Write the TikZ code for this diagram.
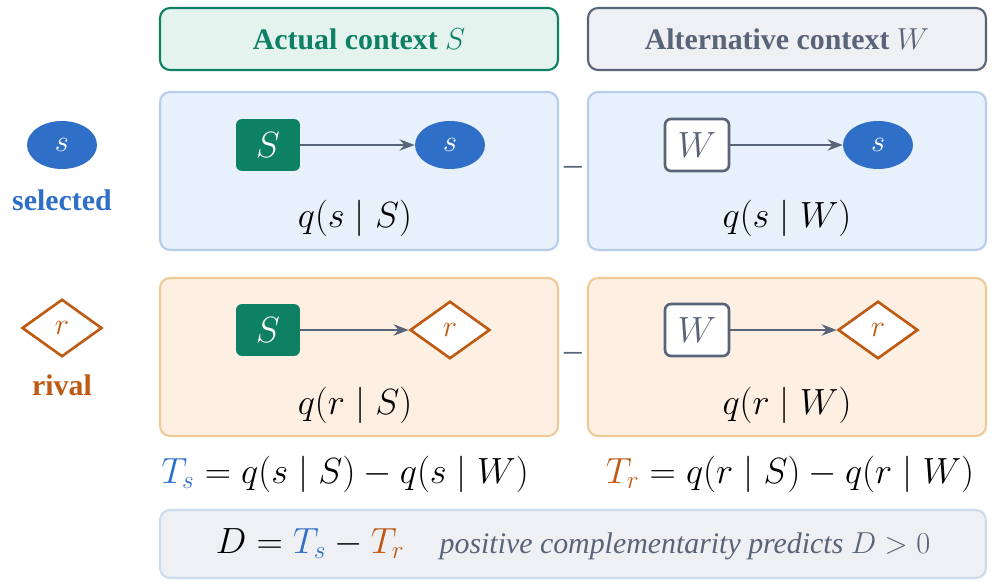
\documentclass[tikz,border=0pt]{standalone}
\usepackage{amsmath}
\usepackage{fontspec}
\setmainfont{Liberation Serif}
\usepackage{tikz}
\usetikzlibrary{positioning, shapes.geometric, arrows.meta}
\definecolor{ccBlue}{RGB}{47, 111, 200}
\definecolor{ccGreen}{RGB}{14, 128, 100}
\definecolor{ccOrange}{RGB}{190, 90, 20}
\definecolor{ccGray}{RGB}{90, 100, 120}
\definecolor{ccBlueFill}{RGB}{232, 240, 251}
\definecolor{ccBlueLine}{RGB}{182, 206, 236}
\definecolor{ccOrangeFill}{RGB}{253, 240, 226}
\definecolor{ccOrangeLine}{RGB}{240, 202, 150}
\definecolor{ccGreenFill}{RGB}{228, 243, 238}
\definecolor{ccGrayFill}{RGB}{238, 240, 243}
\tikzset{
    panel/.style={
        rectangle,
        rounded corners=2mm,
        line width=1.2pt,
        minimum width=7.96cm,
        minimum height=3.16cm
    },
    header/.style={
        rectangle,
        rounded corners=2mm,
        line width=1.2pt,
        minimum width=7.96cm,
        minimum height=1.24cm,
        font=\fontsize{17}{20}\selectfont\bfseries
    },
    ctx/.style={
        rectangle,
        rounded corners=1.2mm,
        minimum width=1.28cm,
        minimum height=1.04cm,
        font=\fontsize{20}{24}\selectfont
    },
    sel/.style={
        ellipse,
        fill=ccBlue,
        text=white,
        minimum width=1.4cm,
        minimum height=0.96cm,
        font=\fontsize{17}{20}\selectfont
    },
    riv/.style={
        diamond,
        draw=ccOrange,
        line width=1.5pt,
        fill=white,
        text=ccOrange,
        minimum width=1.6cm,
        minimum height=1.15cm,
        aspect=1.4,
        inner sep=0pt,
        font=\fontsize{17}{20}\selectfont
    },
    flow/.style={
        -{Stealth[length=3mm]},
        line width=1.3pt,
        color=ccGray
    },
    prob/.style={
        font=\fontsize{20}{24}\selectfont
    }
}
\begin{document}
\begin{tikzpicture}[x=0.02cm, y=-0.02cm]
  \useasboundingbox (0,0) rectangle (997,587);

  % Headers
  \node[header, draw=ccGreen, fill=ccGreenFill, text=ccGreen] (hS) at (359,39) {Actual context $S$};
  \node[header, draw=ccGray, fill=ccGrayFill, text=ccGray] (hW) at (787,39) {Alternative context $W$};

  % Panels
  \node[panel, draw=ccBlueLine, fill=ccBlueFill] (pSs) at (359,171) {};
  \node[panel, draw=ccBlueLine, fill=ccBlueFill] (pWs) at (787,171) {};
  \node[panel, draw=ccOrangeLine, fill=ccOrangeFill] (pSr) at (359,357) {};
  \node[panel, draw=ccOrangeLine, fill=ccOrangeFill] (pWr) at (787,357) {};
  \node[prob, text=ccGray] (m1) at (573,171) {--};
  \node[prob, text=ccGray] (m2) at (573,357) {--};

  % Legend
  \node[sel] (legS) at (62,145) {$s$};
  \node[font=\fontsize{17}{20}\selectfont\bfseries, text=ccBlue] (legSt) at (62,200) {selected};
  \node[riv] (legR) at (62,328) {$r$};
  \node[font=\fontsize{17}{20}\selectfont\bfseries, text=ccOrange] (legRt) at (62,385) {rival};

  % Selected row
  \node[ctx, fill=ccGreen, text=white] (cS1) at (268,145) {$S$};
  \node[sel] (s1) at (450,145) {$s$};
  \draw[flow] (cS1) -- (s1);
  \node[prob] (qsS) at (355,218) {$q(s\mid S)$};
  \node[ctx, draw=ccGray, line width=1.5pt, fill=white, text=ccGray] (cW1) at (697,145) {$W$};
  \node[sel] (s2) at (878,145) {$s$};
  \draw[flow] (cW1) -- (s2);
  \node[prob] (qsW) at (787,218) {$q(s\mid W)$};

  % Rival row
  \node[ctx, fill=ccGreen, text=white] (cS2) at (268,330) {$S$};
  \node[riv] (r1) at (450,330) {$r$};
  \draw[flow] (cS2) -- (r1);
  \node[prob] (qrS) at (355,405) {$q(r\mid S)$};
  \node[ctx, draw=ccGray, line width=1.5pt, fill=white, text=ccGray] (cW2) at (697,330) {$W$};
  \node[riv] (r2) at (878,330) {$r$};
  \draw[flow] (cW2) -- (r2);
  \node[prob] (qrW) at (787,405) {$q(r\mid W)$};

  % Differences
  \node[prob] (Ts) at (345,474) {$\color{ccBlue}T_s\color{black} = q(s\mid S) - q(s\mid W)$};
  \node[prob] (Tr) at (790,474) {$\color{ccOrange}T_r\color{black} = q(r\mid S) - q(r\mid W)$};
  \node[rectangle, rounded corners=2mm, line width=1.2pt, draw=ccBlueLine!60!ccGrayFill, fill=ccGrayFill,
        minimum width=16.52cm, minimum height=1.36cm] (sum) at (573,544) {};
  \node[prob] (D) at (573,544) {$D = {\color{ccBlue}T_s} - {\color{ccOrange}T_r}$\quad
    {\color{ccGray}\fontsize{17}{20}\selectfont\itshape positive complementarity predicts $D>0$}};
\end{tikzpicture}
\end{document}
